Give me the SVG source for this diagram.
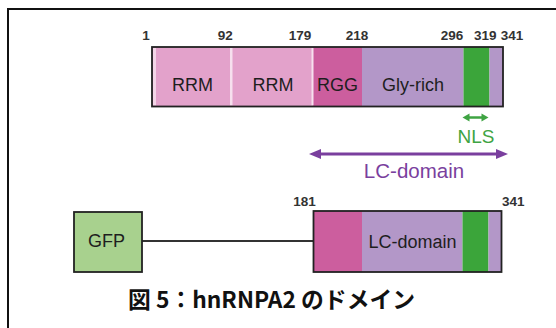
<svg xmlns="http://www.w3.org/2000/svg" width="556" height="328" viewBox="0 0 556 328">
  <style>
    .num { font-family: "Liberation Sans", Arial, sans-serif; font-size: 13.5px; font-weight: bold; fill: #333; text-anchor: middle; }
    .lbl { font-family: "Liberation Sans", Arial, sans-serif; font-size: 18px; fill: #1e1e1e; text-anchor: middle; }
    .box { stroke: #222; stroke-width: 1.8; fill: none; }
    .cap { font-family: "Noto Sans CJK JP", "Noto Sans", sans-serif; font-size: 23px; font-weight: bold; fill: #111; }
    .nls { fill: #3FA443; }
    .lc { fill: #7A3F9E; }
  </style>

  <rect width="556" height="328" fill="#ffffff"/>
  <!-- frame -->
  <path d="M8,328 V9 H556" fill="none" stroke="#111" stroke-width="2"/>

  <!-- full-length protein -->
  <g id="full-protein">
    <rect x="152" y="47" width="79" height="59.5" fill="#E3A2CB"/>
    <rect x="231" y="47" width="82" height="59.5" fill="#E3A2CB"/>
    <rect x="313" y="47" width="49" height="59.5" fill="#CC5E9E"/>
    <rect x="362" y="47" width="101.5" height="59.5" fill="#B397C8"/>
    <rect x="463.5" y="47" width="26" height="59.5" fill="#3BA53A"/>
    <rect x="489.5" y="47" width="13.5" height="59.5" fill="#B397C8"/>
    <rect x="153" y="48" width="3" height="57.5" fill="#F4D6E8"/>
    <rect x="230" y="48" width="2.5" height="57.5" fill="#F6E0EE"/>
    <rect x="311.5" y="48" width="2" height="57.5" fill="#F6E0EE"/>
    <rect class="box" x="152" y="47" width="351" height="59.5"/>
    <text class="lbl" x="192.5" y="91">RRM</text>
    <text class="lbl" x="273" y="91">RRM</text>
    <text class="lbl" x="337.5" y="91">RGG</text>
    <text class="lbl" x="413" y="91">Gly-rich</text>
    <text class="num" x="146" y="40">1</text>
    <text class="num" x="225.3" y="40">92</text>
    <text class="num" x="300" y="40">179</text>
    <text class="num" x="357" y="40">218</text>
    <text class="num" x="452" y="40">296</text>
    <text class="num" x="485.3" y="40">319</text>
    <text class="num" x="512" y="40">341</text>
  </g>

  <!-- domain spans and linker -->
  <g id="connectors">
    <line x1="467" y1="117.5" x2="484" y2="117.5" stroke="#3FA443" stroke-width="2.5"/>
    <polygon class="nls" points="462.5,117.5 469.5,113.5 469.5,121.5"/>
    <polygon class="nls" points="488.5,117.5 481.5,113.5 481.5,121.5"/>
    <line x1="318" y1="154" x2="499" y2="154" stroke="#7A3F9E" stroke-width="3"/>
    <polygon class="lc" points="309,154 321,149 321,159"/>
    <polygon class="lc" points="508,154 496,149 496,159"/>
    <line x1="142" y1="241" x2="313" y2="241" stroke="#333" stroke-width="1.8"/>
  </g>
  <g id="nls-label">
    <text class="nls" x="476" y="143.3" font-family="Liberation Sans, Arial, sans-serif" font-size="19" text-anchor="middle">NLS</text>
  </g>
  <g id="lc-label">
    <text class="lc" x="414" y="178" font-family="Liberation Sans, Arial, sans-serif" font-size="20.5" text-anchor="middle">LC-domain</text>
  </g>

  <!-- GFP fusion construct -->
  <g id="gfp">
    <rect x="74" y="212" width="68" height="60" fill="#A8D18E" stroke="#222" stroke-width="1.8"/>
    <text class="lbl" x="106.5" y="246.7" font-size="19">GFP</text>
  </g>
  <g id="lc-construct">
    <rect x="313.5" y="211" width="48.5" height="61" fill="#CC5E9E"/>
    <rect x="362" y="211" width="100.5" height="61" fill="#B397C8"/>
    <rect x="462.5" y="211" width="26" height="61" fill="#3BA53A"/>
    <rect x="488.5" y="211" width="13" height="61" fill="#B397C8"/>
    <rect class="box" x="313.5" y="211" width="188" height="61"/>
    <text class="lbl" x="412.5" y="248" font-size="18.7">LC-domain</text>
    <text class="num" x="304.5" y="205.7">181</text>
    <text class="num" x="513.3" y="205.7">341</text>
  </g>

  <!-- caption -->
  <g id="caption">
    <text class="cap" x="128" y="307.5" textLength="287" lengthAdjust="spacingAndGlyphs">図 5：hnRNPA2 のドメイン</text>
  </g>
</svg>
